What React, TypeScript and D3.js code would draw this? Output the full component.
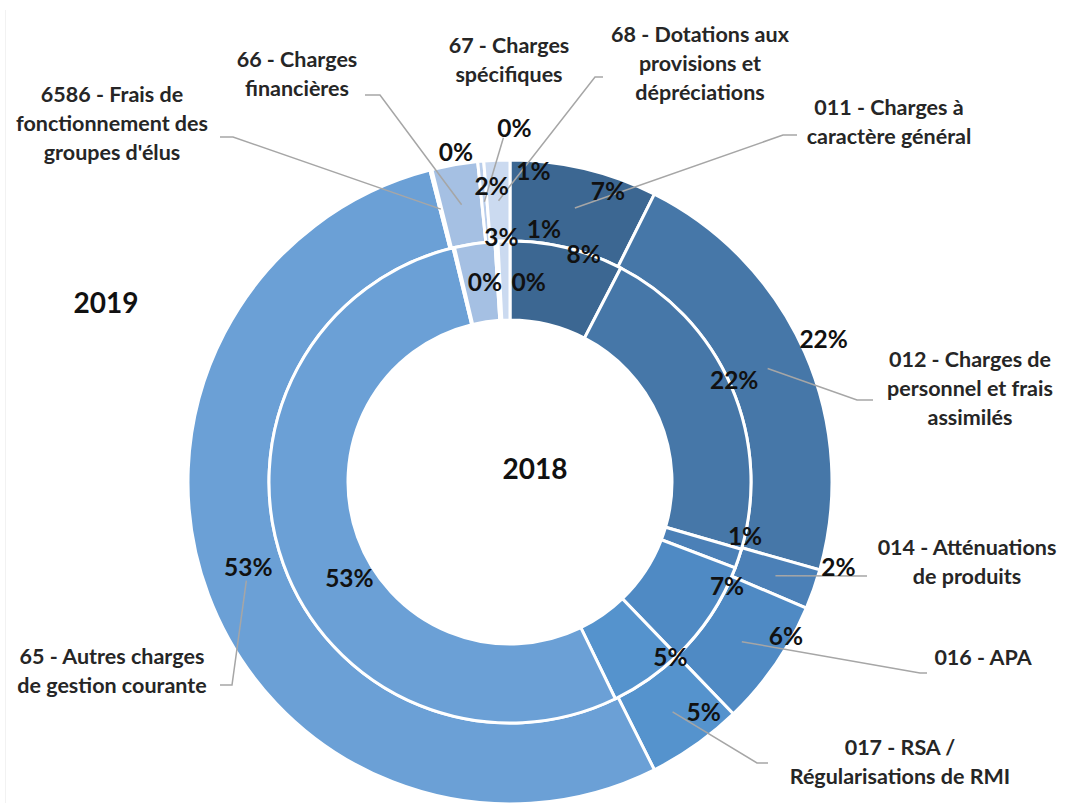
import React from "react";
import * as d3 from "d3";

// category names, split the way the labels wrap
const categories = [
  ["011 - Charges à", "caractère général"],
  ["012 - Charges de", "personnel et frais", "assimilés"],
  ["014 - Atténuations", "de produits"],
  ["016 - APA"],
  ["017 - RSA /", "Régularisations de RMI"],
  ["65 - Autres charges", "de gestion courante"],
  ["6586 - Frais de", "fonctionnement des", "groupes d'élus"],
  ["66 - Charges", "financières"],
  ["67 - Charges", "spécifiques"],
  ["68 - Dotations aux", "provisions et", "dépréciations"],
];

// share of total spending, in %
const share2019 = [7.4, 22.0, 2.0, 6.4, 4.8, 53.4, 0.1, 2.3, 0.3, 1.3];
const share2018 = [7.6, 21.9, 1.3, 7.0, 5.0, 53.4, 0.1, 2.7, 0.2, 0.8];
const years = ["2019", "2018"];

const colors = [
  "#3c6792", "#4677a8", "#4b80b7", "#4f8ac4", "#5593cd",
  "#6ba0d6", "#8cb0de", "#a5c0e3", "#b9cdea", "#cbdaf0",
];

// value label offsets from the slice centroid
const outerShift = [[33, -17], [56, -30], [63, -9], [44, -6], [31, 0], [2, -14], [15, -57], [30, -19], [30, -74], [35, -30]];
const innerShift = [[26, -32], [39, -23], [44, -10], [49, -7], [45, 10], [29, 28], [22, -4], [21, -46], [30, 1], [39, -52]];

// category label placement and leader line start/elbow
const nameLayout = [
  { x: 889, y: 108, from: [797, 135], elbow: [783, 135] },
  { x: 970, y: 360, from: [873, 400], elbow: [857, 400] },
  { x: 967, y: 548, from: [867, 576], elbow: [867, 576] },
  { x: 983, y: 658, from: [927, 673], elbow: [920, 673] },
  { x: 900, y: 748, from: [768, 763], elbow: [757, 763] },
  { x: 112, y: 657, from: [220, 685], elbow: [232, 685] },
  { x: 112, y: 95, from: [220, 137], elbow: [233, 137] },
  { x: 297, y: 60, from: [365, 95], elbow: [380, 95] },
  { x: 509, y: 46, from: null, elbow: null },
  { x: 700, y: 35, from: [603, 77], elbow: [595, 77] },
];

const width = 1065;
const height = 803;
const cx = 510;
const cy = 482;
const font = "Lato, 'Open Sans', sans-serif";

export default function App() {
  const pie = d3
    .pie<number>()
    .sort(null)
    .value((d) => d);

  const outerArc = d3.arc<d3.PieArcDatum<number>>().innerRadius(241).outerRadius(322);
  const innerArc = d3.arc<d3.PieArcDatum<number>>().innerRadius(162).outerRadius(241);

  const outer = pie(share2019);
  const inner = pie(share2018);
  const pct = (v: number) => `${Math.round(v)}%`;

  return (
    <svg
      width={width}
      height={height}
      style={{ position: "absolute", left: 0, top: 0, background: "#fff" }}
    >
      <line x1={5.5} y1={10} x2={5.5} y2={height} stroke="#f2f2f2" strokeWidth={1} />
      <g transform={`translate(${cx},${cy})`}>
        {outer.map((d, i) => (
          <path key={"o" + i} d={outerArc(d) || ""} fill={colors[i]} stroke="#fff" strokeWidth={3} />
        ))}
        {inner.map((d, i) => (
          <path key={"i" + i} d={innerArc(d) || ""} fill={colors[i]} stroke="#fff" strokeWidth={3} />
        ))}
      </g>

      {/* leader lines from category names to the 2019 slices */}
      <g fill="none" stroke="#a6a6a6" strokeWidth={1.5}>
        {outer.map((d, i) => {
          const l = nameLayout[i];
          if (!l.from) return null;
          const [px, py] = outerArc.centroid(d);
          return (
            <polyline
              key={"l" + i}
              points={`${l.from[0]},${l.from[1]} ${l.elbow[0]},${l.elbow[1]} ${cx + px},${cy + py}`}
            />
          );
        })}
        {(() => {
          // the "0%" of 67 sits far from its slice and keeps a leader
          const [px, py] = outerArc.centroid(outer[8]);
          return (
            <line
              x1={cx + px + outerShift[8][0] - 11}
              y1={cy + py + outerShift[8][1] + 10}
              x2={cx + px}
              y2={cy + py}
            />
          );
        })()}
      </g>

      <g fontFamily={font} fontWeight={700} fontSize={24.5} fill="#111" textAnchor="middle">
        {outer.map((d, i) => {
          const [px, py] = outerArc.centroid(d);
          return (
            <text key={"ot" + i} x={cx + px + outerShift[i][0]} y={cy + py + outerShift[i][1] + 9}>
              {pct(d.data)}
            </text>
          );
        })}
        {inner.map((d, i) => {
          const [px, py] = innerArc.centroid(d);
          return (
            <text key={"it" + i} x={cx + px + innerShift[i][0]} y={cy + py + innerShift[i][1] + 9}>
              {pct(d.data)}
            </text>
          );
        })}
      </g>

      <g fontFamily={font} fontWeight={700} fontSize={21.5} fill="#262626" textAnchor="middle">
        {categories.map((lines, i) => (
          <text key={"c" + i} x={nameLayout[i].x} y={nameLayout[i].y + 7}>
            {lines.map((t, j) => (
              <tspan key={j} x={nameLayout[i].x} dy={j === 0 ? 0 : 29}>
                {t}
              </tspan>
            ))}
          </text>
        ))}
      </g>

      <g fontFamily={font} fontWeight={700} fontSize={28} fill="#111" textAnchor="middle">
        <text x={106} y={313}>{years[0]}</text>
        <text x={535} y={479}>{years[1]}</text>
      </g>
    </svg>
  );
}
